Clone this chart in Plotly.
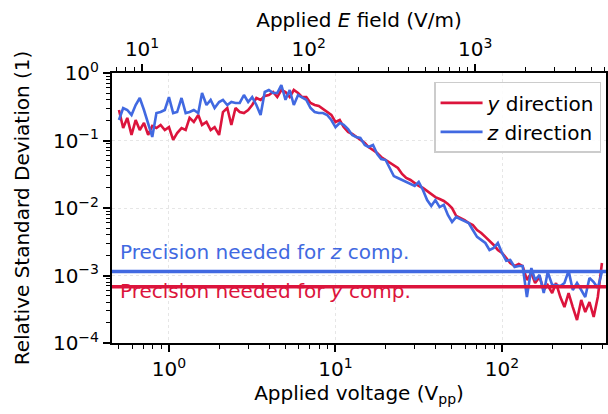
import math
import plotly.graph_objects as go

# ---------------- data ----------------
voltage_vpp = [0.501, 0.531, 0.562, 0.596, 0.631, 0.668, 0.708, 0.750, 0.794, 0.841, 0.891, 0.944,
               1.00, 1.06, 1.12, 1.19, 1.26, 1.33, 1.41, 1.50, 1.58, 1.68, 1.78, 1.88, 2.00, 2.11,
               2.24, 2.37, 2.51, 2.66, 2.82, 2.99, 3.16, 3.35, 3.55, 3.76, 3.98, 4.22, 4.47, 4.73,
               5.01, 5.31, 5.62, 5.96, 6.31, 6.68, 7.08, 7.50, 7.94, 8.41, 8.91, 9.44,
               10.0, 10.6, 11.2, 11.9, 12.6, 13.3, 14.1, 15.0, 15.8, 16.8, 17.8, 18.8, 20.0, 21.1,
               22.4, 23.7, 25.1, 26.6, 28.2, 29.9, 31.6, 33.5, 35.5, 37.6, 39.8, 42.2, 44.7, 47.3,
               50.1, 53.1, 56.2, 59.6, 63.1, 66.8, 70.8, 75.0, 79.4, 84.1, 89.1, 94.4,
               100, 106, 112, 119, 126, 133, 141, 150, 158, 168, 178, 188, 200, 211, 224, 237,
               251, 266, 282, 299, 316, 335, 355, 376, 398]

rsd_y_direction = [0.283, 0.153, 0.216, 0.121, 0.201, 0.143, 0.182, 0.121, 0.164, 0.153, 0.170, 0.143,
                   0.158, 0.102, 0.129, 0.153, 0.143, 0.216, 0.188, 0.239, 0.170, 0.188,
                   0.143, 0.158, 0.121, 0.264, 0.303, 0.170, 0.303, 0.264, 0.255, 0.283,
                   0.336, 0.426, 0.400, 0.456, 0.472, 0.523, 0.440, 0.560, 0.523, 0.440,
                   0.560, 0.506, 0.440, 0.440, 0.360, 0.336, 0.324, 0.293, 0.264, 0.239,
                   0.188, 0.201, 0.158, 0.134, 0.125, 0.113, 0.102, 0.092, 0.080, 0.0723,
                   0.0653, 0.057, 0.0514, 0.0464, 0.0419, 0.0392, 0.0319, 0.0278, 0.026, 0.0235,
                   0.0212, 0.0198, 0.0178, 0.0161, 0.0145, 0.0136, 0.0127, 0.0115, 0.00999, 0.0076,
                   0.0071, 0.00664, 0.00599, 0.0056, 0.00472, 0.00427, 0.00373, 0.00326, 0.00283, 0.00239,
                   0.00216, 0.00182, 0.00153, 0.00138, 0.00148, 0.00138, 0.000858, 0.00109, 0.000774, 0.00095,
                   0.00061, 0.000723, 0.00055, 0.000774, 0.00048, 0.000341, 0.00055, 0.000341, 0.000219, 0.000434,
                   0.000288, 0.000405, 0.000243, 0.00048, 0.00153]

rsd_z_direction = [0.201, 0.303, 0.283, 0.239, 0.336, 0.426, 0.283, 0.170, 0.113, 0.255, 0.264, 0.283,
                   0.440, 0.255, 0.264, 0.426, 0.255, 0.264, 0.283, 0.255, 0.506, 0.336,
                   0.400, 0.303, 0.372, 0.400, 0.336, 0.372, 0.360, 0.360, 0.472, 0.372,
                   0.440, 0.336, 0.239, 0.523, 0.560, 0.506, 0.506, 0.664, 0.400, 0.560,
                   0.336, 0.472, 0.440, 0.400, 0.303, 0.264, 0.255, 0.255, 0.239, 0.201,
                   0.158, 0.182, 0.170, 0.148, 0.121, 0.113, 0.109, 0.0858, 0.080, 0.0858,
                   0.063, 0.0532, 0.0514, 0.0392, 0.0297, 0.0278, 0.026, 0.0243, 0.0227, 0.0212,
                   0.0243, 0.0185, 0.0131, 0.0107, 0.0131, 0.0103, 0.0111, 0.00787, 0.0062, 0.00736,
                   0.00686, 0.00641, 0.00599, 0.00472, 0.00373, 0.00337, 0.00303, 0.00239, 0.00256, 0.00303,
                   0.00216, 0.00165, 0.0017, 0.00134, 0.00138, 0.00138, 0.00048, 0.00129, 0.000858, 0.00102,
                   0.00055, 0.00113, 0.000723, 0.000723, 0.000699, 0.000774, 0.00117, 0.00061, 0.000774, 0.00061,
                   0.00048, 0.00092, 0.0008, 0.000653, 0.00113]

precision_needed_z = 1.15e-3
precision_needed_y = 6.8e-4

field_per_volt = 14.5  # (V/m) per Vpp, top-axis conversion

voltage_limits = [0.455, 421]
rsd_limits = [1e-4, 1e0]

bottom_ticks = [1, 10, 100]
bottom_tick_labels = ["10<sup>0</sup>", "10<sup>1</sup>", "10<sup>2</sup>"]
top_ticks = [10, 100, 1000]
top_tick_labels = ["10<sup>1</sup>", "10<sup>2</sup>", "10<sup>3</sup>"]
y_ticks = [1e-4, 1e-3, 1e-2, 1e-1, 1e0]
y_tick_labels = ["10<sup>\u22124</sup>", "10<sup>\u22123</sup>", "10<sup>\u22122</sup>",
                 "10<sup>\u22121</sup>", "10<sup>0</sup>"]

# ---------------- styling ----------------
RED = "#DC143C"
BLUE = "#4169E1"
FONT = "DejaVu Sans"
FS = 20


def minor_vals(lo, hi):
    vals = []
    d = 10 ** math.floor(math.log10(lo))
    while d < hi:
        for m in range(2, 10):
            v = m * d
            if lo <= v <= hi:
                vals.append(v)
        d *= 10
    return vals


fig = go.Figure()
fig.add_trace(go.Scatter(x=voltage_vpp, y=rsd_y_direction, mode="lines",
                         name="<i>y</i> direction", line=dict(color=RED, width=2.6)))
fig.add_trace(go.Scatter(x=voltage_vpp, y=rsd_z_direction, mode="lines",
                         name="<i>z</i> direction", line=dict(color=BLUE, width=2.6)))
# invisible trace so the top (E-field) axis is rendered
fig.add_trace(go.Scatter(x=[v * field_per_volt for v in voltage_limits], y=[None, None],
                         xaxis="x2", yaxis="y", mode="lines", showlegend=False,
                         hoverinfo="skip"))

xr = [math.log10(v) for v in voltage_limits]
xr2 = [math.log10(v * field_per_volt) for v in voltage_limits]
yr = [math.log10(v) for v in rsd_limits]

axis_common = dict(
    showline=True, linecolor="black", linewidth=2, ticks="outside", ticklen=7,
    tickwidth=1.5, tickcolor="black", automargin=False, zeroline=False,
    tickfont=dict(family=FONT, size=FS, color="black"),
)

fig.update_layout(
    width=608, height=414,
    margin=dict(l=112, r=2, t=73, b=71, autoexpand=False),
    paper_bgcolor="white", plot_bgcolor="white",
    font=dict(family=FONT, size=FS, color="black"),
    xaxis=dict(
        type="log", range=xr, tickmode="array", tickvals=bottom_ticks,
        ticktext=bottom_tick_labels, mirror=False,
        showgrid=True, gridcolor="#e6e6e6", gridwidth=1, griddash="dot",
        minor=dict(tickmode="array", tickvals=minor_vals(voltage_limits[0], voltage_limits[1]),
                   ticks="outside", ticklen=4, tickwidth=1, tickcolor="black", showgrid=False),
        title=dict(text="Applied voltage (V<sub>pp</sub>)", font=dict(family=FONT, size=FS),
                   standoff=6),
        **axis_common,
    ),
    xaxis2=dict(
        type="log", range=xr2, overlaying="x", side="top", anchor="y",
        tickmode="array", tickvals=top_ticks, ticktext=top_tick_labels,
        showgrid=False,
        minor=dict(tickmode="array",
                   tickvals=minor_vals(voltage_limits[0] * field_per_volt,
                                       voltage_limits[1] * field_per_volt),
                   ticks="outside", ticklen=4, tickwidth=1, tickcolor="black", showgrid=False),
        title=dict(text="Applied <i>E</i> field (V/m)", font=dict(family=FONT, size=FS),
                   standoff=2),
        **axis_common,
    ),
    yaxis=dict(
        type="log", range=yr, tickmode="array", tickvals=y_ticks, ticktext=y_tick_labels,
        mirror=True,
        showgrid=True, gridcolor="#e6e6e6", gridwidth=1, griddash="dot",
        minor=dict(tickmode="array", tickvals=minor_vals(rsd_limits[0], rsd_limits[1]),
                   ticks="outside", ticklen=4, tickwidth=1, tickcolor="black", showgrid=False),
        title=dict(text="Relative Standard Deviation (1)", font=dict(family=FONT, size=FS),
                   standoff=18),
        **axis_common,
    ),
    legend=dict(
        x=0.99, y=0.967, xanchor="right", yanchor="top",
        bgcolor="rgba(255,255,255,0.85)", bordercolor="#cccccc", borderwidth=1.5,
        font=dict(family=FONT, size=FS, color="black"), itemwidth=42,
    ),
    showlegend=True,
)

# precision-needed horizontal lines
for val, col in [(precision_needed_z, BLUE), (precision_needed_y, RED)]:
    fig.add_shape(type="line", xref="paper", yref="y", x0=0, x1=1, y0=val, y1=val,
                  line=dict(color=col, width=3.5), layer="above")

fig.add_annotation(xref="paper", yref="y", x=0.012, y=math.log10(precision_needed_z),
                   xanchor="left", yanchor="bottom", yshift=5, showarrow=False,
                   text="Precision needed for <i>z</i> comp.",
                   font=dict(family=FONT, size=FS, color=BLUE))
fig.add_annotation(xref="paper", yref="y", x=0.012, y=math.log10(precision_needed_y),
                   xanchor="left", yanchor="top", yshift=10, showarrow=False,
                   text="Precision needed for <i>y</i> comp.",
                   font=dict(family=FONT, size=FS, color=RED))

fig.write_html("out.html", config={"displayModeBar": False},
               post_script="document.body.style.margin='0px';")
